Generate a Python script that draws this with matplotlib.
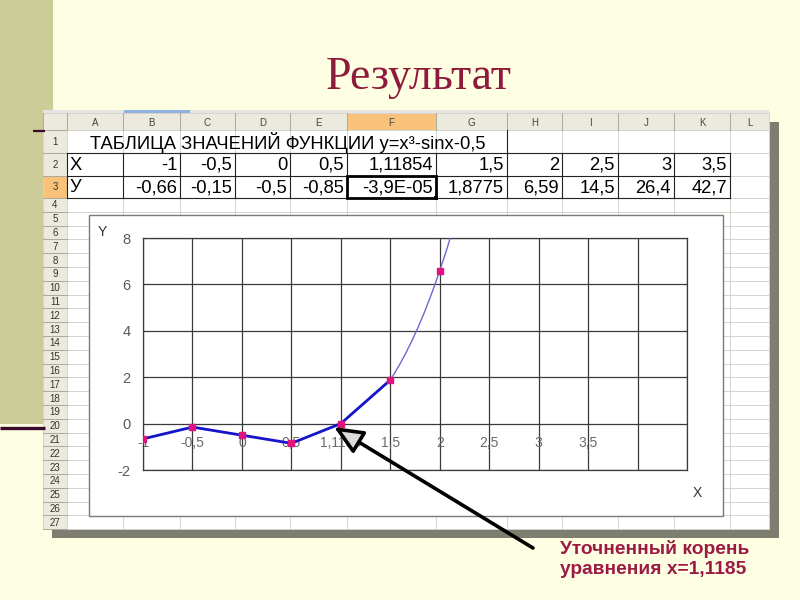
import numpy as np
import matplotlib
matplotlib.use("Agg")
import matplotlib.pyplot as plt
from matplotlib.patches import Rectangle, FancyArrowPatch, PathPatch
from matplotlib.path import Path

# ---- data ---------------------------------------------------------------
x_text = ["-1", "-0,5", "0", "0,5", "1,11854", "1,5", "2", "2,5", "3", "3,5"]
y_text = ["-0,66", "-0,15", "-0,5", "-0,85", "-3,9E-05", "1,8775", "6,59",
          "14,5", "26,4", "42,7"]
y_vals = [-0.66, -0.15, -0.5, -0.85, -3.9e-05, 1.8775, 6.59, 14.5, 26.4, 42.7]
cat_labels = ["-1", "-0,5", "0", "0,5", "1,1185", "1,5", "2", "2,5", "3", "3,5"]
y_ticks = [-2, 0, 2, 4, 6, 8]
n_bold = 6          # the thick part of the line: first six points
n_marked = 7        # points that carry a marker

col_names = list("ABCDEFGHIJKL")

BG = "#fefee3"
OLIVE = "#cccc99"
TITLE_C = "#8e1a3c"
NOTE_C = "#9b1b44"
HEAD = "#eceadf"
GRIDC = "#d4d4cc"

fig = plt.figure(figsize=(8, 6), dpi=100, facecolor=BG)

# slide + sheet drawn in pixel coordinates
bg = fig.add_axes([0, 0, 1, 1], zorder=0)
bg.set_xlim(0, 800); bg.set_ylim(600, 0); bg.axis("off")


def box(a, x0, y0, x1, y1, **kw):
    a.add_patch(Rectangle((x0, y0), x1 - x0, y1 - y0, **kw))


box(bg, 0, 0, 800, 600, fc=BG, ec="none")
box(bg, 0, 0, 53, 424, fc=OLIVE, ec="none")
bg.plot([0, 45], [428, 428], color="#3a0a2c", lw=2.4, solid_capstyle="butt")
bg.plot([33, 45], [131, 131], color="#3a0a2c", lw=1.6, solid_capstyle="butt")

bg.text(419, 78, "Результат", family="Liberation Serif", fontsize=33,
        color=TITLE_C, ha="center", va="center")

# sheet geometry
cols = [43, 67, 123, 180, 235, 290, 347, 436, 507, 562, 618, 674, 730, 769]
rows = [113, 130, 153, 176, 198] + [198 + 13.8 * (k + 1) for k in range(24)]
SX0, SX1, SY0, SY1 = cols[0], cols[-1], rows[0], rows[-1]

# shadow
box(bg, SX1, SY0 + 9, SX1 + 10, SY1 + 9, fc="#7e7e70", ec="none")
box(bg, SX0 + 9, SY1, SX1 + 10, SY1 + 9, fc="#7e7e70", ec="none")
box(bg, SX0, SY0 - 3, SX1, SY1, fc="white", ec="none")
box(bg, SX0, SY0 - 3, SX1, SY0, fc="#e4e4e4", ec="none")
box(bg, 124, SY0 - 3, 190, SY0, fc="#8fb0e0", ec="none")

# headers
box(bg, SX0, SY0, SX1, rows[1], fc=HEAD, ec="none")
box(bg, SX0, rows[1], cols[1], SY1, fc=HEAD, ec="none")
box(bg, cols[6], SY0, cols[7], rows[1], fc="#f8c27a", ec="none")
box(bg, SX0, rows[3], cols[1], rows[4], fc="#f8c27a", ec="none")

for x in cols:
    bg.plot([x, x], [SY0, SY1], color=GRIDC, lw=0.7, zorder=1)
for y in rows:
    bg.plot([SX0, SX1], [y, y], color=GRIDC, lw=0.7, zorder=1)
for x in cols[:-1]:
    bg.plot([x, x], [SY0, rows[1]], color="#aca899", lw=0.7, zorder=1)
for y in rows[1:]:
    bg.plot([SX0, cols[1]], [y, y], color="#aca899", lw=0.7, zorder=1)

for i, nm in enumerate(col_names):
    bg.text((cols[i + 1] + cols[i + 2]) / 2, (rows[0] + rows[1]) / 2 + 1, nm,
            fontsize=7, color="#444444", ha="center", va="center",
            family="Liberation Sans")
for r in range(27):
    bg.text((cols[0] + cols[1]) / 2, (rows[r + 1] + rows[r + 2]) / 2 + 0.5,
            str(r + 1), fontsize=7, color="#333333", ha="center", va="center",
            family="Liberation Sans")

# table content
TF = dict(fontsize=13.2, color="black", family="Liberation Sans", va="center")
bg.text(90, (rows[1] + rows[2]) / 2 + 1,
        "ТАБЛИЦА ЗНАЧЕНИЙ ФУНКЦИИ y=x³-sinx-0,5", **TF)
bg.text(cols[1] + 3, (rows[2] + rows[3]) / 2 + 1, "X", ha="left", **TF)
bg.text(cols[1] + 3, (rows[3] + rows[4]) / 2 + 1, "У", ha="left", **TF)
for i, (xs, ys) in enumerate(zip(x_text, y_text)):
    xr = cols[i + 3] - 3
    bg.text(xr, (rows[2] + rows[3]) / 2 + 1, xs, ha="right", **TF)
    bg.text(xr, (rows[3] + rows[4]) / 2 + 1, ys, ha="right", **TF)

for y in (rows[2], rows[3], rows[4]):
    bg.plot([cols[1], cols[12]], [y, y], color="#222222", lw=0.8, zorder=2)
for x in cols[1:13]:
    bg.plot([x, x], [rows[2], rows[4]], color="#222222", lw=0.8, zorder=2)
bg.plot([cols[8], cols[8]], [rows[1], rows[2]], color="#222222", lw=0.8, zorder=2)
box(bg, cols[6], rows[3], cols[7], rows[4], fc="none", ec="black", lw=2, zorder=3)
box(bg, cols[7] - 2, rows[4] - 2, cols[7] + 2, rows[4] + 2, fc="black",
    ec="none", zorder=3)

# chart area
box(bg, 89, 215, 723, 516, fc="white", ec="#7a7a7a", lw=1, zorder=4)
bg.text(102, 232, "Y", fontsize=10, color="#333333", ha="center",
        va="center", family="Liberation Sans", zorder=5)
bg.text(697, 493, "X", fontsize=10, color="#333333", ha="center",
        va="center", family="Liberation Sans", zorder=5)

# ---- the chart itself ----------------------------------------------------
ax = fig.add_axes([143 / 800, (600 - 470) / 600, 544 / 800, 232 / 600],
                  zorder=1)
pos = np.arange(len(y_vals))
ax.set_xlim(0, 11)
ax.set_ylim(-2, 8)
ax.set_xticks(np.arange(0, 12))
ax.set_xticklabels([])
ax.set_yticks(y_ticks)
ax.set_yticklabels([str(t) for t in y_ticks], family="Liberation Sans",
                   fontsize=10.5, color="#5a5a5a")
ax.tick_params(axis="y", length=0, pad=9)
ax.tick_params(axis="x", length=0)
ax.grid(True, color="#3a3a3a", lw=0.9)
for s in ax.spines.values():
    s.set_color("#3a3a3a"); s.set_linewidth(0.9)

# smoothed thin series (bezier through the points, Excel style),
# visible from the last thick point upward
P = np.column_stack([pos, y_vals]).astype(float)
start = n_bold - 1
verts, codes = [P[start]], [Path.MOVETO]
for i in range(start, len(P) - 1):
    p0 = P[max(i - 1, 0)]; p1 = P[i]; p2 = P[i + 1]; p3 = P[min(i + 2, len(P) - 1)]
    verts += [p1 + (p2 - p0) / 6, p2 - (p3 - p1) / 6, p2]
    codes += [Path.CURVE4] * 3
ax.add_patch(PathPatch(Path(verts, codes), fc="none", ec="#6a6ad0", lw=1.0,
                       zorder=3))
ax.plot(pos[:n_bold], y_vals[:n_bold], color="#1414c8", lw=2.0, zorder=4)
ax.plot(pos[:n_marked], y_vals[:n_marked], ls="none", marker="s", ms=4,
        mfc="#e0147c", mec="#e0147c", zorder=5)

for p, lab in zip(pos, cat_labels):
    ax.text(p, -0.82, lab, fontsize=10, color="#6a6a6a", ha="center",
            va="center", family="Liberation Sans", zorder=2)

# ---- overlay: arrow and note ---------------------------------------------
ov = fig.add_axes([0, 0, 1, 1], zorder=3)
ov.set_xlim(0, 800); ov.set_ylim(600, 0); ov.axis("off")
ov.patch.set_alpha(0)
ov.add_patch(FancyArrowPatch((533, 548), (334, 427),
                             arrowstyle="-|>,head_length=0.8,head_width=0.35",
                             mutation_scale=22, lw=2.6, ec="black",
                             fc="#dcdcdc", shrinkA=0, shrinkB=0))
ov.text(560, 559, "Уточненный корень\nуравнения x=1,1185", fontsize=13.8,
        fontweight="bold", color=NOTE_C, ha="left", va="center",
        family="Liberation Sans", linespacing=1.3)

fig.savefig("out.png", dpi=100, facecolor=BG)
